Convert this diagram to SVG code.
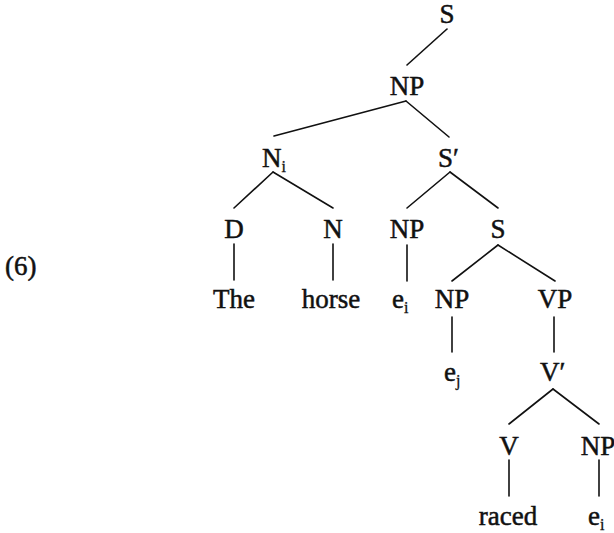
<svg xmlns="http://www.w3.org/2000/svg" width="614" height="533" viewBox="0 0 614 533">
  <style>
    text { font-family: "Liberation Serif", "Times New Roman", serif; font-size: 27px; fill: #111; stroke: #111; stroke-width: 0.5; }
    .c { text-anchor: middle; }
    .sub { font-size: 16px; stroke-width: 0.3; }
    #edges line { stroke: #111; stroke-width: 1.6; stroke-linecap: round; }
  </style>
  <rect width="614" height="533" fill="#fff"/>

  <!-- example number -->
  <g id="label6"><text x="5" y="275">(6)</text></g>

  <!-- tree nodes -->
  <g id="s-root"><text class="c" x="447" y="23">S</text></g>
  <g id="np-top"><text class="c" x="407" y="95">NP</text></g>
  <g id="n-i"><text x="262" y="167">N<tspan class="sub" dy="5">i</tspan></text></g>
  <g id="s-bar"><text x="438" y="167">S′</text></g>
  <g id="d"><text class="c" x="234" y="238">D</text></g>
  <g id="n"><text class="c" x="333" y="238">N</text></g>
  <g id="np-gap"><text class="c" x="407" y="238">NP</text></g>
  <g id="s-emb"><text class="c" x="498" y="238">S</text></g>
  <g id="w-the"><text class="c" x="234" y="308">The</text></g>
  <g id="w-horse"><text class="c" x="331" y="308">horse</text></g>
  <g id="e-i1"><text x="392" y="308">e<tspan class="sub" dy="5">i</tspan></text></g>
  <g id="np-subj"><text class="c" x="452" y="308">NP</text></g>
  <g id="vp"><text class="c" x="555" y="308">VP</text></g>
  <g id="e-j"><text x="444" y="381">e<tspan class="sub" dy="5">j</tspan></text></g>
  <g id="v-bar"><text x="540" y="381">V′</text></g>
  <g id="v"><text class="c" x="509" y="455">V</text></g>
  <g id="np-obj"><text class="c" x="598" y="455">NP</text></g>
  <g id="w-raced"><text class="c" x="508" y="525">raced</text></g>
  <g id="e-i2"><text x="588" y="525">e<tspan class="sub" dy="5">i</tspan></text></g>

  <!-- branches -->
  <g id="edges">
    <line x1="447" y1="29" x2="407" y2="65"/>
    <line x1="406" y1="101" x2="274" y2="136"/>
    <line x1="406" y1="101" x2="449" y2="137"/>
    <line x1="273" y1="172" x2="234" y2="208"/>
    <line x1="273" y1="172" x2="333" y2="208"/>
    <line x1="450" y1="172" x2="407" y2="208"/>
    <line x1="450" y1="172" x2="498" y2="208"/>
    <line x1="234" y1="244" x2="234" y2="280"/>
    <line x1="333" y1="244" x2="333" y2="280"/>
    <line x1="407" y1="245" x2="407" y2="281"/>
    <line x1="498" y1="245" x2="452" y2="281"/>
    <line x1="498" y1="245" x2="555" y2="281"/>
    <line x1="452" y1="317" x2="452" y2="352"/>
    <line x1="554" y1="317" x2="554" y2="352"/>
    <line x1="553" y1="389" x2="509" y2="424"/>
    <line x1="553" y1="389" x2="599" y2="424"/>
    <line x1="509" y1="460" x2="509" y2="496"/>
    <line x1="599" y1="460" x2="599" y2="496"/>
  </g>
</svg>
